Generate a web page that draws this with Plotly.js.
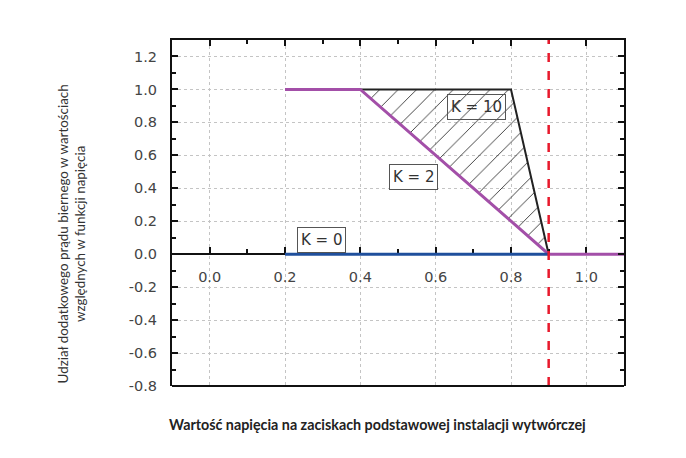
<!DOCTYPE html>
<html><head><meta charset="utf-8">
<script src="https://cdn.plot.ly/plotly-3.0.1.min.js"></script>
<style>html,body{margin:0;padding:0;background:#fff}#chart{width:686px;height:458px}</style>
</head><body><div id="chart"></div>
<script>
// Data
const k0X = [0.2, 0.9];
const k0Y = [0, 0];
const k2X = [0.2, 0.4, 0.9, 1.1];
const k2Y = [1, 1, 0, 0];
const k10X = [0.4, 0.8, 0.9];
const k10Y = [1, 1, 0];
const hatchX = [0.4, 0.8, 0.9, 0.4];
const hatchY = [1, 1, 0, 1];
const limitX = 0.9;
const xTicks = [0.0, 0.2, 0.4, 0.6, 0.8, 1.0];
const yTicks = [-0.8, -0.6, -0.4, -0.2, 0.0, 0.2, 0.4, 0.6, 0.8, 1.0, 1.2];
const labels = [
  {text: 'K = 10', x: 0.709, y: 0.894, bg: 'rgba(0,0,0,0)'},
  {text: 'K = 2', x: 0.5415, y: 0.47, bg: '#ffffff'},
  {text: 'K = 0', x: 0.297, y: 0.085, bg: '#ffffff'}
];

const tickFont = {family: 'DejaVu Sans, Verdana, sans-serif', size: 14.5, color: '#444'};

const traces = [
  {x: hatchX, y: hatchY, type: 'scatter', mode: 'lines', fill: 'toself',
   fillcolor: 'rgba(0,0,0,0)', line: {width: 0},
   fillpattern: {shape: '/', fgcolor: '#333', bgcolor: 'rgba(255,255,255,0)', size: 13, solidity: 0.07},
   hoverinfo: 'skip', showlegend: false},
  {x: k10X, y: k10Y, type: 'scatter', mode: 'lines', line: {color: '#222', width: 2}, showlegend: false},
  {x: k2X, y: k2Y, type: 'scatter', mode: 'lines', line: {color: '#a34fa8', width: 3}, showlegend: false},
  {x: k0X, y: k0Y, type: 'scatter', mode: 'lines', line: {color: '#1f4f9c', width: 3}, showlegend: false}
];

const annotations = labels.map(l => ({
  text: l.text, x: l.x, y: l.y, xref: 'x', yref: 'y', showarrow: false,
  font: {family: 'DejaVu Sans, Verdana, sans-serif', size: 15, color: '#333'},
  bgcolor: l.bg, bordercolor: '#555', borderwidth: 1, borderpad: 3
}));
annotations.push({
  text: 'Udział dodatkowego prądu biernego w wartościach<br>względnych w funkcji napięcia',
  xref: 'paper', yref: 'paper', x: -0.222, y: 0.44, xanchor: 'center', yanchor: 'middle',
  textangle: -90, showarrow: false, align: 'center',
  font: {family: 'Lato, Open Sans, sans-serif', size: 13.4, color: '#333'}
});
annotations.push({
  text: '<b>Wartość napięcia na zaciskach podstawowej instalacji wytwórczej</b>',
  xref: 'paper', yref: 'paper', x: 0.455, y: -0.11, xanchor: 'center', yanchor: 'middle',
  showarrow: false,
  font: {family: 'Lato, Open Sans, sans-serif', size: 14.3, color: '#222'}
});

const layout = {
  width: 686, height: 458,
  margin: {l: 172, r: 62, t: 40, b: 72},
  paper_bgcolor: '#fff', plot_bgcolor: '#fff',
  xaxis: {
    range: [-0.1, 1.1], anchor: 'free', position: 0.381, side: 'bottom',
    tickvals: xTicks, ticktext: xTicks.map(v => v.toFixed(1)),
    ticks: 'inside', ticklen: 6, tickwidth: 2, tickcolor: '#111',
    minor: {dtick: 0.1, tick0: 0, ticks: 'inside', ticklen: 4, tickwidth: 2, tickcolor: '#111', showgrid: false},
    showline: true, linecolor: '#111', linewidth: 2, layer: 'below traces',
    showgrid: true, gridcolor: '#c4c4c4', griddash: 'dot', gridwidth: 1,
    zeroline: false, tickfont: tickFont, ticklabelstandoff: 9, fixedrange: true
  },
  xaxis2: {
    range: [-0.1, 1.1], overlaying: 'x', anchor: 'y', side: 'top',
    tickvals: xTicks, showticklabels: false,
    ticks: 'inside', ticklen: 6, tickwidth: 2, tickcolor: '#111',
    minor: {dtick: 0.1, tick0: 0, ticks: 'inside', ticklen: 4, tickwidth: 2, tickcolor: '#111'},
    showline: true, linecolor: '#111', linewidth: 2, showgrid: false, zeroline: false
  },
  yaxis: {
    range: [-0.8, 1.3], tickvals: yTicks, ticktext: yTicks.map(v => v.toFixed(1)),
    ticks: 'inside', ticklen: 6, tickwidth: 2, tickcolor: '#111',
    minor: {dtick: 0.1, tick0: 0, ticks: 'inside', ticklen: 4, tickwidth: 2, tickcolor: '#111', showgrid: false},
    showline: true, mirror: 'ticks', linecolor: '#111', linewidth: 2,
    showgrid: true, gridcolor: '#c4c4c4', griddash: 'dot', gridwidth: 1,
    zeroline: false, tickfont: tickFont, ticklabelstandoff: 10, fixedrange: true
  },
  shapes: [
    {type: 'line', xref: 'x', yref: 'paper', x0: limitX, x1: limitX, y0: 0, y1: 1,
     line: {color: '#e8192c', width: 2.5, dash: 'dash'}, layer: 'above'},
    {type: 'line', xref: 'paper', yref: 'paper', x0: 0, x1: 1, y0: 0, y1: 0,
     line: {color: '#111', width: 2}, layer: 'above'}
  ],
  annotations: annotations,
  showlegend: false
};

Plotly.newPlot('chart', traces.concat([{x: [0], y: [0], xaxis: 'x2', mode: 'markers', marker: {opacity: 0}, hoverinfo: 'skip', showlegend: false}]), layout, {displayModeBar: false, staticPlot: true});
</script></body></html>
